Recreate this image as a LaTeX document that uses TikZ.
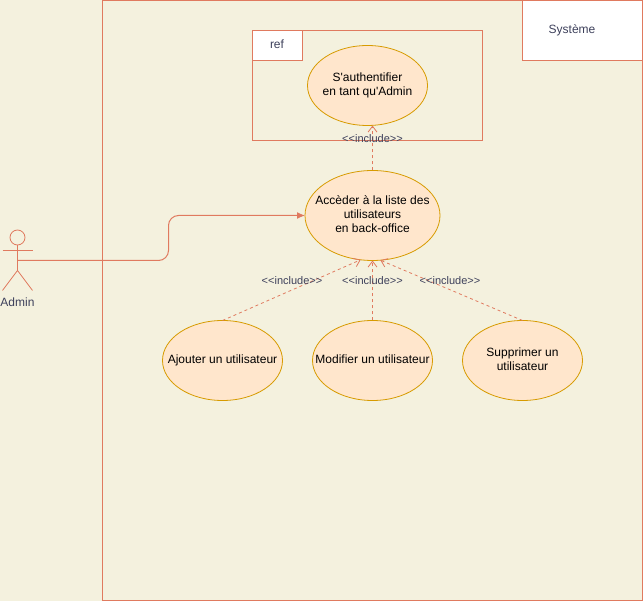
\documentclass[tikz,border=0pt]{standalone}
\usepackage{fontspec}
\setmainfont[Ligatures=TeXOff]{Liberation Sans}
\usetikzlibrary{positioning}
\usetikzlibrary{arrows.meta}
\usetikzlibrary{shapes.geometric}
\definecolor{cream}{HTML}{F4F1DE}
\definecolor{coral}{HTML}{E07A5F}
\definecolor{slate}{HTML}{3D405B}
\definecolor{peach}{HTML}{FFE6CC}
\definecolor{amber}{HTML}{D79B00}

\begin{document}
\begin{tikzpicture}[
    x=1pt, y=-1pt,
    % node styles
    usecase/.style = {
      ellipse,
      draw=amber,
      fill=peach,
      line width=0.8pt,
      inner xsep=-20pt,
      inner ysep=-12pt,
      outer sep=0pt,
      minimum width=120pt,
      minimum height=80pt,
      align=center,
      text=black,
      text depth=3pt,
      font=\fontsize{12}{14}\selectfont
    },
    framebox/.style = {
      rectangle,
      draw=coral,
      line width=1pt,
      inner sep=0pt,
      outer sep=0pt
    },
    tab/.style = {framebox, fill=white},
    lbl/.style = {
      text=slate,
      inner sep=0pt,
      font=\fontsize{12}{14}\selectfont
    },
    inclbl/.style = {lbl, font=\fontsize{11}{13}\selectfont},
    % arrow styles
    assoc/.style = {-{Latex[length=8pt,width=7pt]}, line width=1pt, draw=coral, rounded corners=10pt},
    incl/.style = {-{Straight Barb[length=6pt,width=9pt]}, line width=0.8pt, draw=coral, dash pattern=on 3pt off 3pt},
    actorline/.style = {line width=0.8pt, draw=coral}
  ]

  \fill[cream] (0,0) rectangle (643,601);

  % --- Frames
  \node[framebox, minimum width=540pt, minimum height=600pt] (systeme) at (372.5,300.5) {};
  \node[tab, minimum width=120pt, minimum height=60pt] (systab) at (582.5,30.5) {};
  \node[lbl] (syslbl) at (572,30) {Système};
  \node[framebox, minimum width=230pt, minimum height=110pt] (refbox) at (367.5,85.5) {};
  \node[tab, minimum width=50pt, minimum height=30pt] (reftab) at (277.5,45.5) {};
  \node[lbl] (reflbl) at (277,44) {ref};

  % --- Use cases
  \node[usecase, minimum width=135pt, minimum height=90pt] (acces) at (372.5,215.5)
    {Accèder à la liste des\\utilisateurs\\en back-office};
  \node[usecase, above=45pt of acces, xshift=-5pt] (auth) {S'authentifier\\en tant qu'Admin};
  \node[usecase, below=60pt of acces] (modif) {Modifier un utilisateur};
  \node[usecase, left=30pt of modif] (ajout) {Ajouter un utilisateur};
  \node[usecase, right=30pt of modif] (suppr) {Supprimer un\\utilisateur};

  % --- Actor
  \node[circle, draw=coral, line width=0.8pt, inner sep=0pt, outer sep=0pt, minimum size=15pt] (head) at (17.5,237.5) {};
  \coordinate (hips) at (17.5,270.5);
  \coordinate (admin) at (17.5,260.5);
  \coordinate (handl) at (2.5,250.5);
  \coordinate (handr) at (32.5,250.5);
  \coordinate (footl) at (2.5,290.5);
  \coordinate (footr) at (32.5,290.5);
  \coordinate (bend) at (168.5,240);
  \draw[actorline] (head) -- (hips);
  \draw[actorline] (handl) -- (handr);
  \draw[actorline] (footl) -- (hips) -- (footr);
  \node[lbl] (adminlbl) at (17.5,302.5) {Admin};

  % --- Arrows
  \draw[assoc] (admin) -| (bend) |- (acces.west);
  \draw[incl] (acces.north) -- (acces.north |- auth.south);
  \draw[incl] (ajout.north) -- (acces.255);
  \draw[incl] (modif.north) -- (acces.south);
  \draw[incl] (suppr.north) -- (acces.280);

  % --- Labels
  \node[inclbl] (inc1) at (372.5,139) {<<include>>};
  \node[inclbl] (inc2) at (292,281) {<<include>>};
  \node[inclbl] (inc3) at (372.5,281) {<<include>>};
  \node[inclbl] (inc4) at (450,281) {<<include>>};

\end{tikzpicture}
\end{document}
